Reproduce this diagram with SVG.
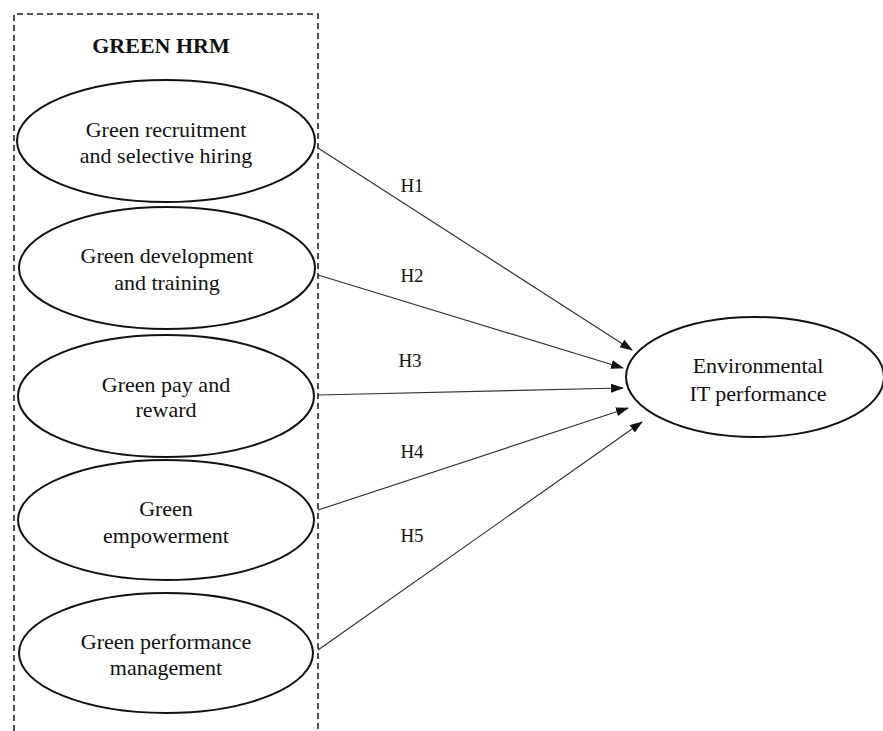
<svg xmlns="http://www.w3.org/2000/svg" width="883" height="731" viewBox="0 0 883 731">
<style>
.n ellipse{fill:#fff;stroke:#111;stroke-width:2}
text{font-family:"Liberation Serif","Times New Roman",serif;fill:#111;text-anchor:middle}
.t{font-size:22px}
.h{font-size:19px}
.c line{stroke:#333;stroke-width:1.2}
</style>
<defs>
<marker id="ah" markerWidth="13" markerHeight="10" refX="12" refY="5" orient="auto" markerUnits="userSpaceOnUse">
<path d="M0,0.5 L13,5 L0,9.5 Z" fill="#111"/>
</marker>
</defs>
<rect width="883" height="731" fill="#fff"/>
<path id="group-box" d="M14,731 V14 H318 V731" fill="none" stroke="#222" stroke-width="1.6" stroke-dasharray="6,4"/>
<text x="161" y="53" style="font-size:22px;font-weight:bold">GREEN HRM</text>
<g id="n1" class="n"><ellipse cx="166" cy="141" rx="149" ry="61"/><text class="t" x="166" y="137">Green recruitment</text><text class="t" x="166" y="163">and selective hiring</text></g>
<g id="n2" class="n"><ellipse cx="167" cy="268" rx="148" ry="61"/><text class="t" x="167" y="263">Green development</text><text class="t" x="167" y="290">and training</text></g>
<g id="n3" class="n"><ellipse cx="166" cy="396" rx="148" ry="61"/><text class="t" x="166" y="392">Green pay and</text><text class="t" x="166" y="417">reward</text></g>
<g id="n4" class="n"><ellipse cx="166" cy="520" rx="148" ry="60"/><text class="t" x="166" y="516">Green</text><text class="t" x="166" y="543">empowerment</text></g>
<g id="n5" class="n"><ellipse cx="166" cy="653" rx="147" ry="60"/><text class="t" x="166" y="649">Green performance</text><text class="t" x="166" y="675">management</text></g>
<g id="n6" class="n"><ellipse cx="755" cy="377" rx="129" ry="60"/><text class="t" x="758" y="373">Environmental</text><text class="t" x="758" y="401">IT performance</text></g>
<g id="connectors" class="c">
<line x1="318" y1="148" x2="632" y2="350" marker-end="url(#ah)"/>
<line x1="318" y1="275" x2="623" y2="368" marker-end="url(#ah)"/>
<line x1="318" y1="395" x2="623" y2="388" marker-end="url(#ah)"/>
<line x1="318" y1="510" x2="628" y2="408" marker-end="url(#ah)"/>
<line x1="318" y1="650" x2="642" y2="422" marker-end="url(#ah)"/>
</g>
<g id="labels">
<text class="h" x="412" y="192">H1</text>
<text class="h" x="412" y="282">H2</text>
<text class="h" x="410" y="367">H3</text>
<text class="h" x="412" y="458">H4</text>
<text class="h" x="412" y="542">H5</text>
</g>
</svg>
